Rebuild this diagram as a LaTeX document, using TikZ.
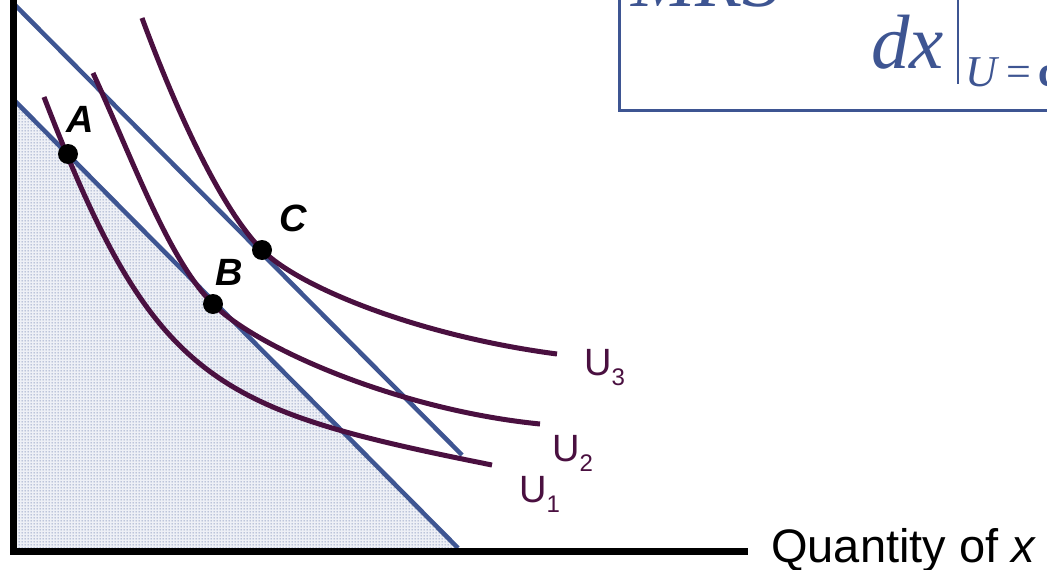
\documentclass[tikz,border=0pt]{standalone}
\usepackage{fontspec}
\setmainfont{Liberation Sans}
\newfontfamily\tmsfont{Liberation Serif}
\usetikzlibrary{patterns.meta}
\definecolor{plum}{HTML}{4A1040}
\definecolor{bblue}{HTML}{3E5592}
\definecolor{shadebg}{HTML}{EEF0F6}
\tikzdeclarepattern{
  name=bigdots,
  type=uncolored,
  bounding box={(0pt,0pt) and (3pt,3pt)},
  tile size={(3pt,3pt)},
  code={\fill (1.5pt,1.5pt) circle (0.75pt);}
}
\tikzset{
  icurve/.style={draw=plum, line width=5pt},
  budget/.style={draw=bblue, line width=4.5pt},
  axisline/.style={draw=black, line width=7pt},
  dotpt/.style={circle, fill=black, inner sep=0pt, minimum size=20pt},
  ptlabel/.style={font=\fontsize{38}{40}\selectfont\bfseries\itshape, inner sep=0pt},
  ulabel/.style={font=\fontsize{38}{40}\selectfont, text=plum, inner sep=0pt, anchor=base west},
  boxtext/.style={font=\tmsfont\fontsize{77}{80}\selectfont\itshape, text=bblue, inner sep=0pt, anchor=base west},
}
\newcommand{\usub}[1]{U\raisebox{-10pt}{\fontsize{24}{24}\selectfont #1}}
\begin{document}
\begin{tikzpicture}[x=1pt,y=-1pt]
\clip (0,0) rectangle (1047,570);
\fill[white] (0,0) rectangle (1047,570);
% shaded budget set
\fill[shadebg] (14,103) -- (14,550) -- (458,550) -- cycle;
\fill[pattern=bigdots, pattern color=bblue!80] (14,103) -- (14,550) -- (458,550) -- cycle;
% budget lines
\coordinate (b1s) at (14,100);
\coordinate (b1e) at (458,548);
\coordinate (b2s) at (12,2);
\coordinate (b2e) at (462,455);
\draw[budget] (b1s) -- (b1e);
\draw[budget] (b2s) -- (b2e);
% points
\coordinate (pA) at (68,154);
\coordinate (pB) at (213,304);
\coordinate (pC) at (262,250);
% indifference curves
\draw[icurve] (44,97) .. controls (154,383) and (212,409) .. (492,465);
\draw[icurve] (93,73) .. controls (133,160) and (168,259) .. (pB)
                      .. controls (258,349) and (400,410) .. (540,424);
\draw[icurve] (142,18) .. controls (177,113) and (222,210) .. (pC)
                       .. controls (300,288) and (420,336) .. (557,354);
% axes
\coordinate (ytop) at (13,-5);
\coordinate (ybot) at (13,555);
\coordinate (xstart) at (10,551);
\coordinate (xend) at (748,551);
\draw[axisline] (ytop) -- (ybot);
\draw[axisline] (xstart) -- (xend);
\node[anchor=base west, inner sep=0pt, font=\fontsize{47}{50}\selectfont] (xlab) at (771,562) {Quantity of \textit{x}};
% point markers and labels
\node[dotpt] (A) at (pA) {};
\node[dotpt] (B) at (pB) {};
\node[dotpt] (C) at (pC) {};
\node[ptlabel] (Alab) at (80,119) {A};
\node[ptlabel] (Blab) at (229,272) {B};
\node[ptlabel] (Clab) at (293,218) {C};
% curve labels
\node[ulabel] (U3) at (584,375) {\usub{3}};
\node[ulabel] (U2) at (552,461) {\usub{2}};
\node[ulabel] (U1) at (519,502) {\usub{1}};
% formula box
\draw[draw=bblue, line width=3pt] (619,-20) rectangle (1080,110);
\node[boxtext] (mrs) at (631,6) {MRS};
\node[boxtext] (dx) at (871,68) {dx};
\coordinate (bartop) at (958,-5);
\coordinate (barbot) at (958,84);
\draw[draw=bblue, line width=2.5pt] (bartop) -- (barbot);
\node[anchor=base west, inner sep=0pt, text=bblue, font=\tmsfont\fontsize{44}{46}\selectfont] (cond) at (965,86) {\textit{U}\,=\,\textbf{c}};
\end{tikzpicture}
\end{document}
